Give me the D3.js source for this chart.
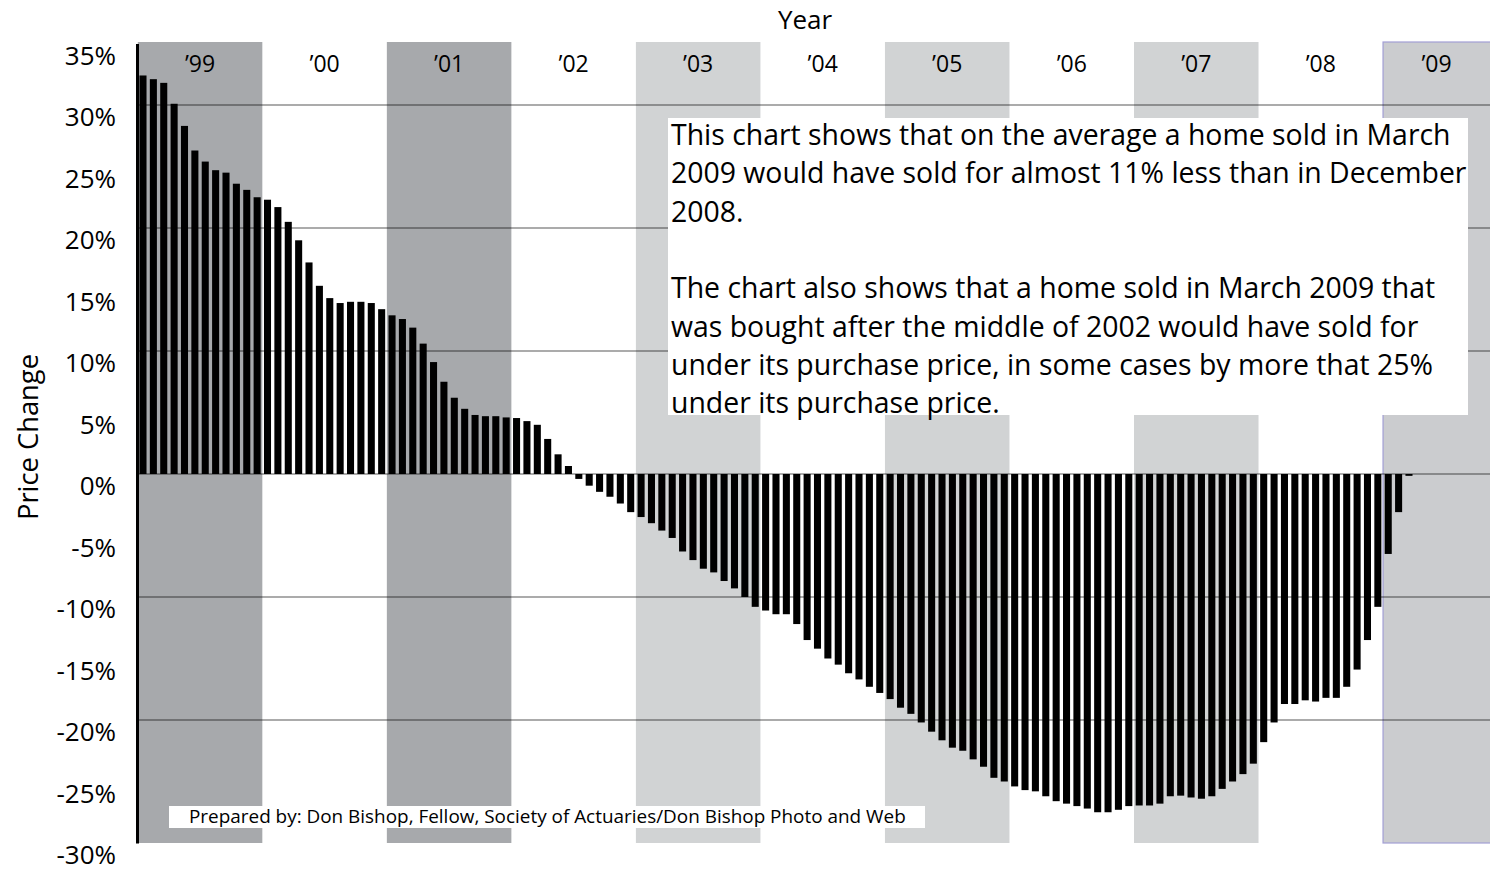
<!DOCTYPE html>
<html><head><meta charset="utf-8">
<script src="https://cdn.jsdelivr.net/npm/d3@7"></script>
<style>
body{margin:0;background:#fff}
svg{display:block}
text{font-family:"Open Sans","Noto Sans",sans-serif;fill:#000}
</style>
</head><body>
<svg id="chart" width="1490" height="871"></svg>
<script>
// ---- data ----
const yearLabels = ["\u201999","\u201900","\u201901","\u201902","\u201903","\u201904","\u201905","\u201906","\u201907","\u201908","\u201909"];
const yearShading = ["dark","none","dark","none","light","none","light","none","light","none","last"];
const values1999 = [32.4, 32.1, 31.8, 30.1, 28.3, 26.3, 25.4, 24.7, 24.5, 23.6, 23.1, 22.5];
const values2000 = [22.3, 21.7, 20.5, 19.0, 17.2, 15.3, 14.3, 13.9, 14.0, 14.0, 13.9, 13.4];
const values2001 = [12.9, 12.6, 11.9, 10.6, 9.1, 7.5, 6.2, 5.3, 4.8, 4.7, 4.7, 4.6];
const values2002 = [4.55, 4.3, 4.0, 2.85, 1.6, 0.65, -0.4, -0.95, -1.45, -1.85, -2.4, -3.1];
const values2003 = [-3.5, -4.0, -4.6, -5.2, -6.3, -7.0, -7.7, -8.0, -8.7, -9.3, -10.0, -10.8];
const values2004 = [-11.1, -11.4, -11.4, -12.2, -13.5, -14.2, -15.0, -15.5, -16.2, -16.7, -17.3, -17.8];
const values2005 = [-18.3, -19.0, -19.5, -20.2, -20.95, -21.65, -22.25, -22.5, -23.2, -23.8, -24.7, -25.0];
const values2006 = [-25.4, -25.7, -25.8, -26.2, -26.6, -26.8, -27.0, -27.2, -27.5, -27.5, -27.3, -27.0];
const values2007 = [-26.95, -26.95, -26.8, -26.2, -26.15, -26.3, -26.4, -26.2, -25.6, -25.0, -24.4, -23.55];
const values2008 = [-21.8, -20.2, -18.7, -18.7, -18.4, -18.5, -18.2, -18.2, -17.3, -15.9, -13.5, -10.8];
const values2009 = [-6.5, -3.1, -0.15];
const yTicks = [35, 30, 25, 20, 15, 10, 5, 0, -5, -10, -15, -20, -25, -30];
const gridValues = [30, 20, 10, 0, -10, -20];
const noteLines = [
  "This chart shows that on the average a home sold in March",
  "2009 would have sold for almost 11% less than in December",
  "2008.",
  "",
  "The chart also shows that a home sold in March 2009 that",
  "was bought after the middle of 2002 would have sold for",
  "under its purchase price, in some cases by more that 25%",
  "under its purchase price."
];
const creditText = "Prepared by: Don Bishop, Fellow, Society of Actuaries/Don Bishop Photo and Web";
const xTitle = "Year";
const yTitle = "Price Change";

const priceChange = [].concat(values1999, values2000, values2001, values2002, values2003,
  values2004, values2005, values2006, values2007, values2008, values2009);
const monthKeys = d3.range(yearLabels.length * 12);

// ---- layout ----
const W = 1490, H = 871;
const svg = d3.select("#chart");
const step0 = 10.377, x0 = 137.8;
const x = d3.scaleBand().domain(monthKeys)
  .range([x0, x0 + step0 * monthKeys.length])
  .paddingInner(0.32).paddingOuter(0.16);
const y = d3.scaleLinear().domain([-30, 35]).range([843, 43.5]);
const step = x.step();

const shadeFill = {dark: "#a7a9ac", light: "#d1d3d4", last: "#cbcccf", none: "none"};

// year bands
const bands = yearLabels.map((lab, i) => {
  const bx = x(i * 12) - step * x.paddingInner() / 2;
  return {lab, i, bx, bw: 12 * step, shade: yearShading[i]};
});
svg.append("g").selectAll("rect").data(bands.filter(b => b.shade !== "none")).join("rect")
  .attr("x", d => d.bx).attr("y", y(35) - 1.5)
  .attr("width", d => d.shade === "last" ? W + 4 - d.bx : d.bw)
  .attr("height", y(-30) - y(35) + 1.5)
  .attr("fill", d => shadeFill[d.shade])
  .attr("stroke", d => d.shade === "last" ? "#a29ed4" : "none")
  .attr("stroke-width", 1.2);

// gridlines
svg.append("g").selectAll("line").data(gridValues).join("line")
  .attr("x1", x0).attr("x2", W)
  .attr("y1", d => y(d)).attr("y2", d => y(d))
  .attr("stroke", "#000").attr("stroke-opacity", 0.33).attr("stroke-width", 2);

// bars
svg.append("g").selectAll("rect").data(priceChange).join("rect")
  .attr("x", (d, i) => x(i))
  .attr("width", x.bandwidth())
  .attr("y", d => y(Math.max(0, d)))
  .attr("height", d => Math.abs(y(d) - y(0)))
  .attr("fill", "#000");

// year labels
svg.append("g").selectAll("text").data(bands).join("text")
  .attr("x", d => (d.bx + Math.min(d.bx + d.bw, W)) / 2)
  .attr("y", 72)
  .attr("text-anchor", "middle")
  .attr("font-size", 23)
  .text(d => d.lab);

// y axis
const yAxis = svg.append("g").attr("transform", `translate(137,0)`)
  .call(d3.axisLeft(y).tickValues(yTicks).tickSize(0).tickPadding(21).tickFormat(d => d + "%"));
yAxis.select(".domain").attr("stroke", "#000").attr("stroke-width", 3);
yAxis.selectAll("text").attr("font-size", 26).attr("dy", "0.8em")
  .style("font-family", '"Open Sans","Noto Sans",sans-serif').attr("fill", "#000");

// titles
svg.append("text").attr("x", 805).attr("y", 29).attr("text-anchor", "middle")
  .attr("font-size", 26).text(xTitle);
const yt = svg.append("text").attr("transform", "translate(38,437) rotate(-90)")
  .attr("text-anchor", "middle").attr("font-size", 26).text(yTitle);
const ytl = yt.node().getComputedTextLength();
yt.attr("font-size", Math.min(28, 26 * 166 / ytl));

// note box
svg.append("rect").attr("x", 668).attr("y", 118).attr("width", 800).attr("height", 297).attr("fill", "#fff");
const note = svg.append("g");
const noteTexts = note.selectAll("text").data(noteLines).join("text")
  .attr("x", 671).attr("y", (d, i) => 145 + i * 38.3)
  .attr("font-size", 28).text(d => d);
const longest = noteTexts.nodes()[1].getComputedTextLength();
noteTexts.attr("font-size", 28 * 796 / longest);

// credit box
svg.append("rect").attr("x", 169).attr("y", 806).attr("width", 756).attr("height", 22).attr("fill", "#fff");
const credit = svg.append("text").attr("x", 189).attr("y", 823).attr("font-size", 18).text(creditText);
const cl = credit.node().getComputedTextLength();
credit.attr("font-size", 18 * 717 / cl);
</script>
</body></html>
